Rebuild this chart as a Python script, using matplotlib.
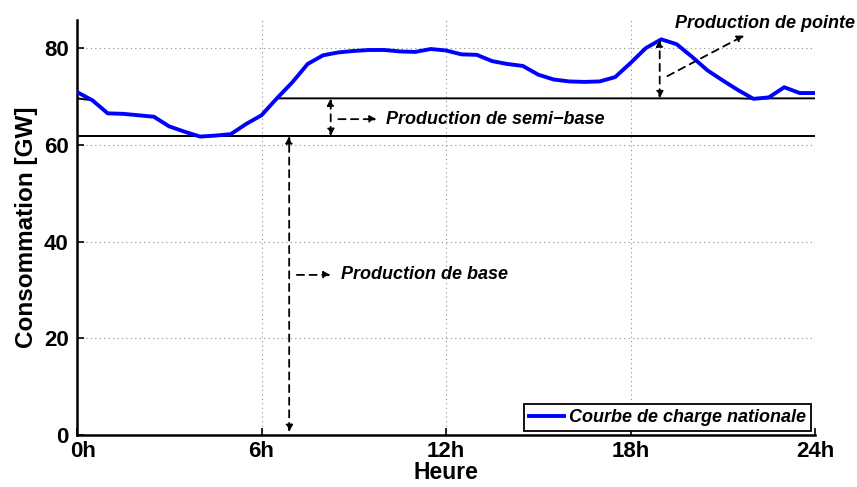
import numpy as np
import matplotlib
matplotlib.use("Agg")
import matplotlib.pyplot as plt
import matplotlib.transforms as mtransforms

# courbe de charge nationale (pas d'une demi-heure)
heures = np.arange(0, 24.5, 0.5)
conso = [70.9, 69.2, 66.5, 66.4, 66.1, 65.8, 63.8, 62.7, 61.7, 61.9,
         62.2, 64.3, 66.1, 69.6, 72.9, 76.7, 78.5, 79.1, 79.4, 79.6,
         79.6, 79.3, 79.2, 79.8, 79.5, 78.7, 78.6, 77.3, 76.7, 76.3,
         74.5, 73.5, 73.1, 73.0, 73.1, 74.0, 76.9, 80.0, 81.8, 80.8,
         78.2, 75.4, 73.3, 71.3, 69.5, 69.8, 71.9, 70.7, 70.7]
niveau_base = 61.8
niveau_semi = 69.6
xticks = [0, 6, 12, 18, 24]
xticklabels = ["0h", "6h", "12h", "18h", "24h"]
yticks = [0, 20, 40, 60, 80]

conso = np.array(conso)
police = ["Liberation Sans", "DejaVu Sans"]

fig = plt.figure(figsize=(8.57, 4.87), dpi=100)
ax = fig.add_axes([77/857, 52/487, 738/857, 415/487])

# lignes de niveaux (cachees sous la courbe quand celle-ci est plus basse)
ax.plot(heures, np.full_like(conso, niveau_base), color="k", lw=1.4, zorder=2)
ax.plot(heures, np.minimum(conso, niveau_semi), color="k", lw=1.4, zorder=2)
ax.plot(heures, conso, color=(0, 0, 1), lw=2.8, zorder=3,
        label="Courbe de charge nationale")

def fleche(x0, y0, x1, y1, style):
    ax.annotate("", xy=(x1, y1), xytext=(x0, y0),
                arrowprops=dict(arrowstyle=style, color="k", lw=1.3,
                                ls=(0, (4, 3)), shrinkA=0, shrinkB=0,
                                mutation_scale=10), zorder=4)

txt = dict(fontsize=13, fontweight="bold", fontstyle="italic",
           family=police, va="center", ha="left")

# production de base
fleche(6.9, 0.6, 6.9, niveau_base, "<|-|>")
fleche(7.15, 33.1, 8.25, 33.1, "-|>")
ax.text(8.6, 33.1, "Production de base", **txt)

# production de semi-base
fleche(8.25, niveau_base, 8.25, niveau_semi, "<|-|>")
fleche(8.5, 65.3, 9.75, 65.3, "-|>")
ax.text(10.05, 65.3, "Production de semi\u2212base", **txt)

# production de pointe
fleche(18.95, niveau_semi, 18.95, conso.max(), "<|-|>")
fleche(19.2, 74.2, 21.7, 82.6, "-|>")
ax.text(19.45, 85.0, "Production de pointe", clip_on=False, **txt)

ax.set_xlim(0, 24)
ax.set_ylim(0, 85.8)
ax.set_xticks(xticks)
ax.set_xticklabels(xticklabels)
ax.set_yticks(yticks)
ax.grid(True, color="0.55", ls=(0, (1, 3)), lw=0.8)
for s in ["top", "right"]:
    ax.spines[s].set_visible(False)
for s in ["left", "bottom"]:
    ax.spines[s].set_linewidth(1.8)
ax.tick_params(direction="in", length=5, width=1.2)
ax.tick_params(axis="x", pad=4.5)
ax.tick_params(axis="y", pad=6)
for lab in ax.get_xticklabels() + ax.get_yticklabels():
    lab.set_family(police)
    lab.set_fontweight("bold")
    lab.set_fontsize(16)
# le premier label est decale vers la droite comme sur l'original
decal = mtransforms.ScaledTranslation(6/100, 0, fig.dpi_scale_trans)
ax.get_xticklabels()[0].set_transform(ax.get_xticklabels()[0].get_transform() + decal)

ax.set_xlabel("Heure", fontsize=16.5, fontweight="bold", family=police, labelpad=-1)
ax.set_ylabel("Consommation [GW]", fontsize=17.5, fontweight="bold", family=police,
              labelpad=4)

leg = ax.legend(loc="lower right", bbox_to_anchor=(1.0, 0.0),
                handlelength=1.9, handletextpad=0.3,
                borderpad=0.3, borderaxespad=0.2, fancybox=False,
                prop=dict(family=police, size=13, weight="bold", style="italic"))
leg.get_frame().set_edgecolor("k")
leg.get_frame().set_linewidth(1.3)
leg.get_frame().set_alpha(1)

fig.savefig("out.png", dpi=100)
